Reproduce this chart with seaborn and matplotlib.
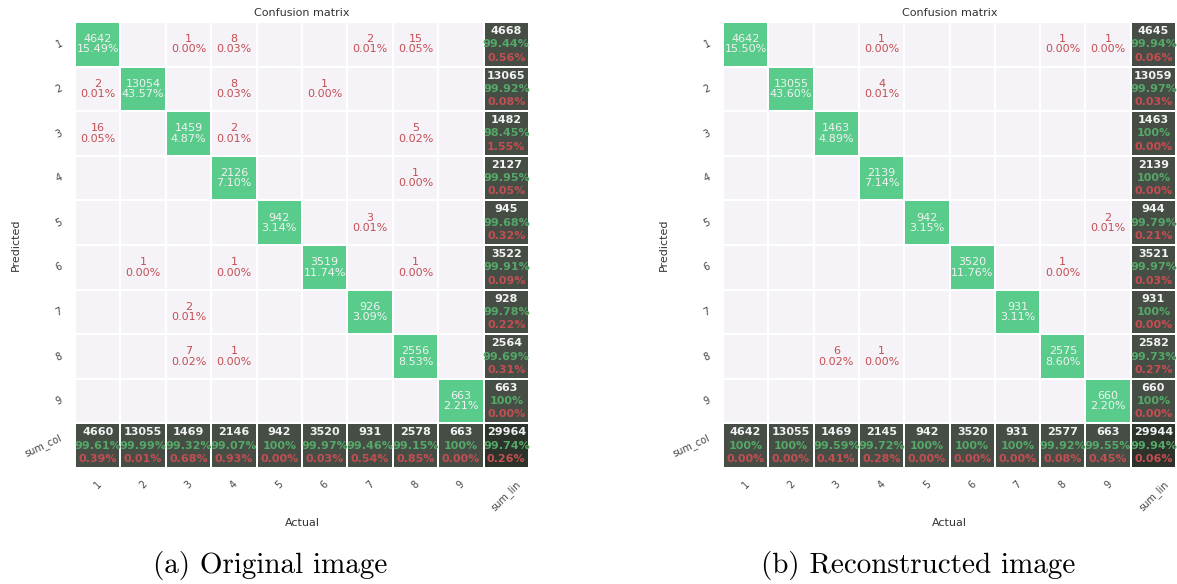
import numpy as np
import pandas as pd
import seaborn as sns
import matplotlib
matplotlib.use("Agg")
import matplotlib.pyplot as plt
from matplotlib.colors import ListedColormap

# Class labels (rows = predicted, columns = actual)
classes = ["1", "2", "3", "4", "5", "6", "7", "8", "9"]
row_total_label = "sum_col"
col_total_label = "sum_lin"

# Confusion matrix obtained on the original images
original_cm = [
    [4642, 0, 1, 8, 0, 0, 2, 15, 0],
    [2, 13054, 0, 8, 0, 1, 0, 0, 0],
    [16, 0, 1459, 2, 0, 0, 0, 5, 0],
    [0, 0, 0, 2126, 0, 0, 0, 1, 0],
    [0, 0, 0, 0, 942, 0, 3, 0, 0],
    [0, 1, 0, 1, 0, 3519, 0, 1, 0],
    [0, 0, 2, 0, 0, 0, 926, 0, 0],
    [0, 0, 7, 1, 0, 0, 0, 2556, 0],
    [0, 0, 0, 0, 0, 0, 0, 0, 663],
]

# Confusion matrix obtained on the reconstructed images
reconstructed_cm = [
    [4642, 0, 0, 1, 0, 0, 0, 1, 1],
    [0, 13055, 0, 4, 0, 0, 0, 0, 0],
    [0, 0, 1463, 0, 0, 0, 0, 0, 0],
    [0, 0, 0, 2139, 0, 0, 0, 0, 0],
    [0, 0, 0, 0, 942, 0, 0, 0, 2],
    [0, 0, 0, 0, 0, 3520, 0, 1, 0],
    [0, 0, 0, 0, 0, 0, 931, 0, 0],
    [0, 0, 6, 1, 0, 0, 0, 2575, 0],
    [0, 0, 0, 0, 0, 0, 0, 0, 660],
]

captions = ["(a) Original image", "(b) Reconstructed image"]

# Colours
OFFDIAG = "#F5F3F8"
DIAG = "#59CC8C"
TOTAL = "#454D45"
GRAND = "#2B332B"
TXT_RED = "#C44E52"
TXT_GREEN = "#55A868"
TXT_WHITE = "#F2F2F2"

sns.set_theme(style="darkgrid")
plt.rcParams["font.family"] = ["DejaVu Sans"]


def pct(v):
    return "100%" if np.isclose(v, 100.0) else "%.2f%%" % v


def draw_matrix(ax, cm):
    cm = np.asarray(cm)
    n = cm.shape[0]
    total = cm.sum()
    ext = np.zeros((n + 1, n + 1), dtype=int)
    ext[:n, :n] = cm
    ext[:n, n] = cm.sum(axis=1)
    ext[n, :n] = cm.sum(axis=0)
    ext[n, n] = total

    # role of each cell: 0 off-diagonal, 1 diagonal, 2 totals, 3 grand total
    role = np.zeros_like(ext)
    role[np.arange(n), np.arange(n)] = 1
    role[:n, n] = 2
    role[n, :n] = 2
    role[n, n] = 3

    df = pd.DataFrame(role, index=classes + [row_total_label],
                      columns=classes + [col_total_label])
    sns.heatmap(df, ax=ax, cmap=ListedColormap([OFFDIAG, DIAG, TOTAL, GRAND]),
                vmin=-0.5, vmax=3.5, cbar=False, linewidths=1.3,
                linecolor="white", square=False)

    for i in range(n + 1):
        for j in range(n + 1):
            v = ext[i, j]
            cx, cy = j + 0.5, i + 0.5
            if i == n or j == n:
                if i == n and j == n:
                    ok = np.trace(cm) / total * 100
                elif j == n:
                    ok = cm[i, i] / v * 100 if v else 0
                else:
                    ok = cm[j, j] / v * 100 if v else 0
                err = 100 - ok
                kw = dict(ha="center", va="center", fontsize=8, fontweight="bold")
                ax.text(cx, cy - 0.3, "%d" % v, color=TXT_WHITE, **kw)
                ax.text(cx, cy, pct(ok), color=TXT_GREEN, **kw)
                ax.text(cx, cy + 0.3, "%.2f%%" % err, color=TXT_RED, **kw)
            elif v > 0:
                color = TXT_WHITE if i == j else TXT_RED
                ax.text(cx, cy, "%d\n%.2f%%" % (v, v / total * 100),
                        ha="center", va="center", fontsize=8, color=color,
                        linespacing=1.05)

    ax.set_xticklabels(ax.get_xticklabels(), rotation=45, fontsize=7, color="#444444")
    ax.set_yticklabels(ax.get_yticklabels(), rotation=25, fontsize=7, color="#444444")
    ax.tick_params(length=0, pad=8)
    ax.set_title("Confusion matrix", fontsize=8, pad=4, color="#333333")
    ax.set_xlabel("Actual", fontsize=8, color="#333333", labelpad=3)
    ax.set_ylabel("Predicted", fontsize=8, color="#333333", labelpad=2)


W, H = 1177, 584
fig = plt.figure(figsize=(W / 100, H / 100), dpi=100)
fig.patch.set_facecolor("white")

ax_left = fig.add_axes([75 / W, 1 - 468 / H, 454 / W, 446 / H])
ax_right = fig.add_axes([723 / W, 1 - 468 / H, 453 / W, 446 / H])

draw_matrix(ax_left, original_cm)
draw_matrix(ax_right, reconstructed_cm)

fig.text(270 / W, 1 - 565 / H, captions[0], ha="center", va="center",
         fontsize=21, family="cmr10", color="black")
fig.text(918 / W, 1 - 565 / H, captions[1], ha="center", va="center",
         fontsize=21, family="cmr10", color="black")

fig.savefig("out.png", dpi=100, facecolor="white")
